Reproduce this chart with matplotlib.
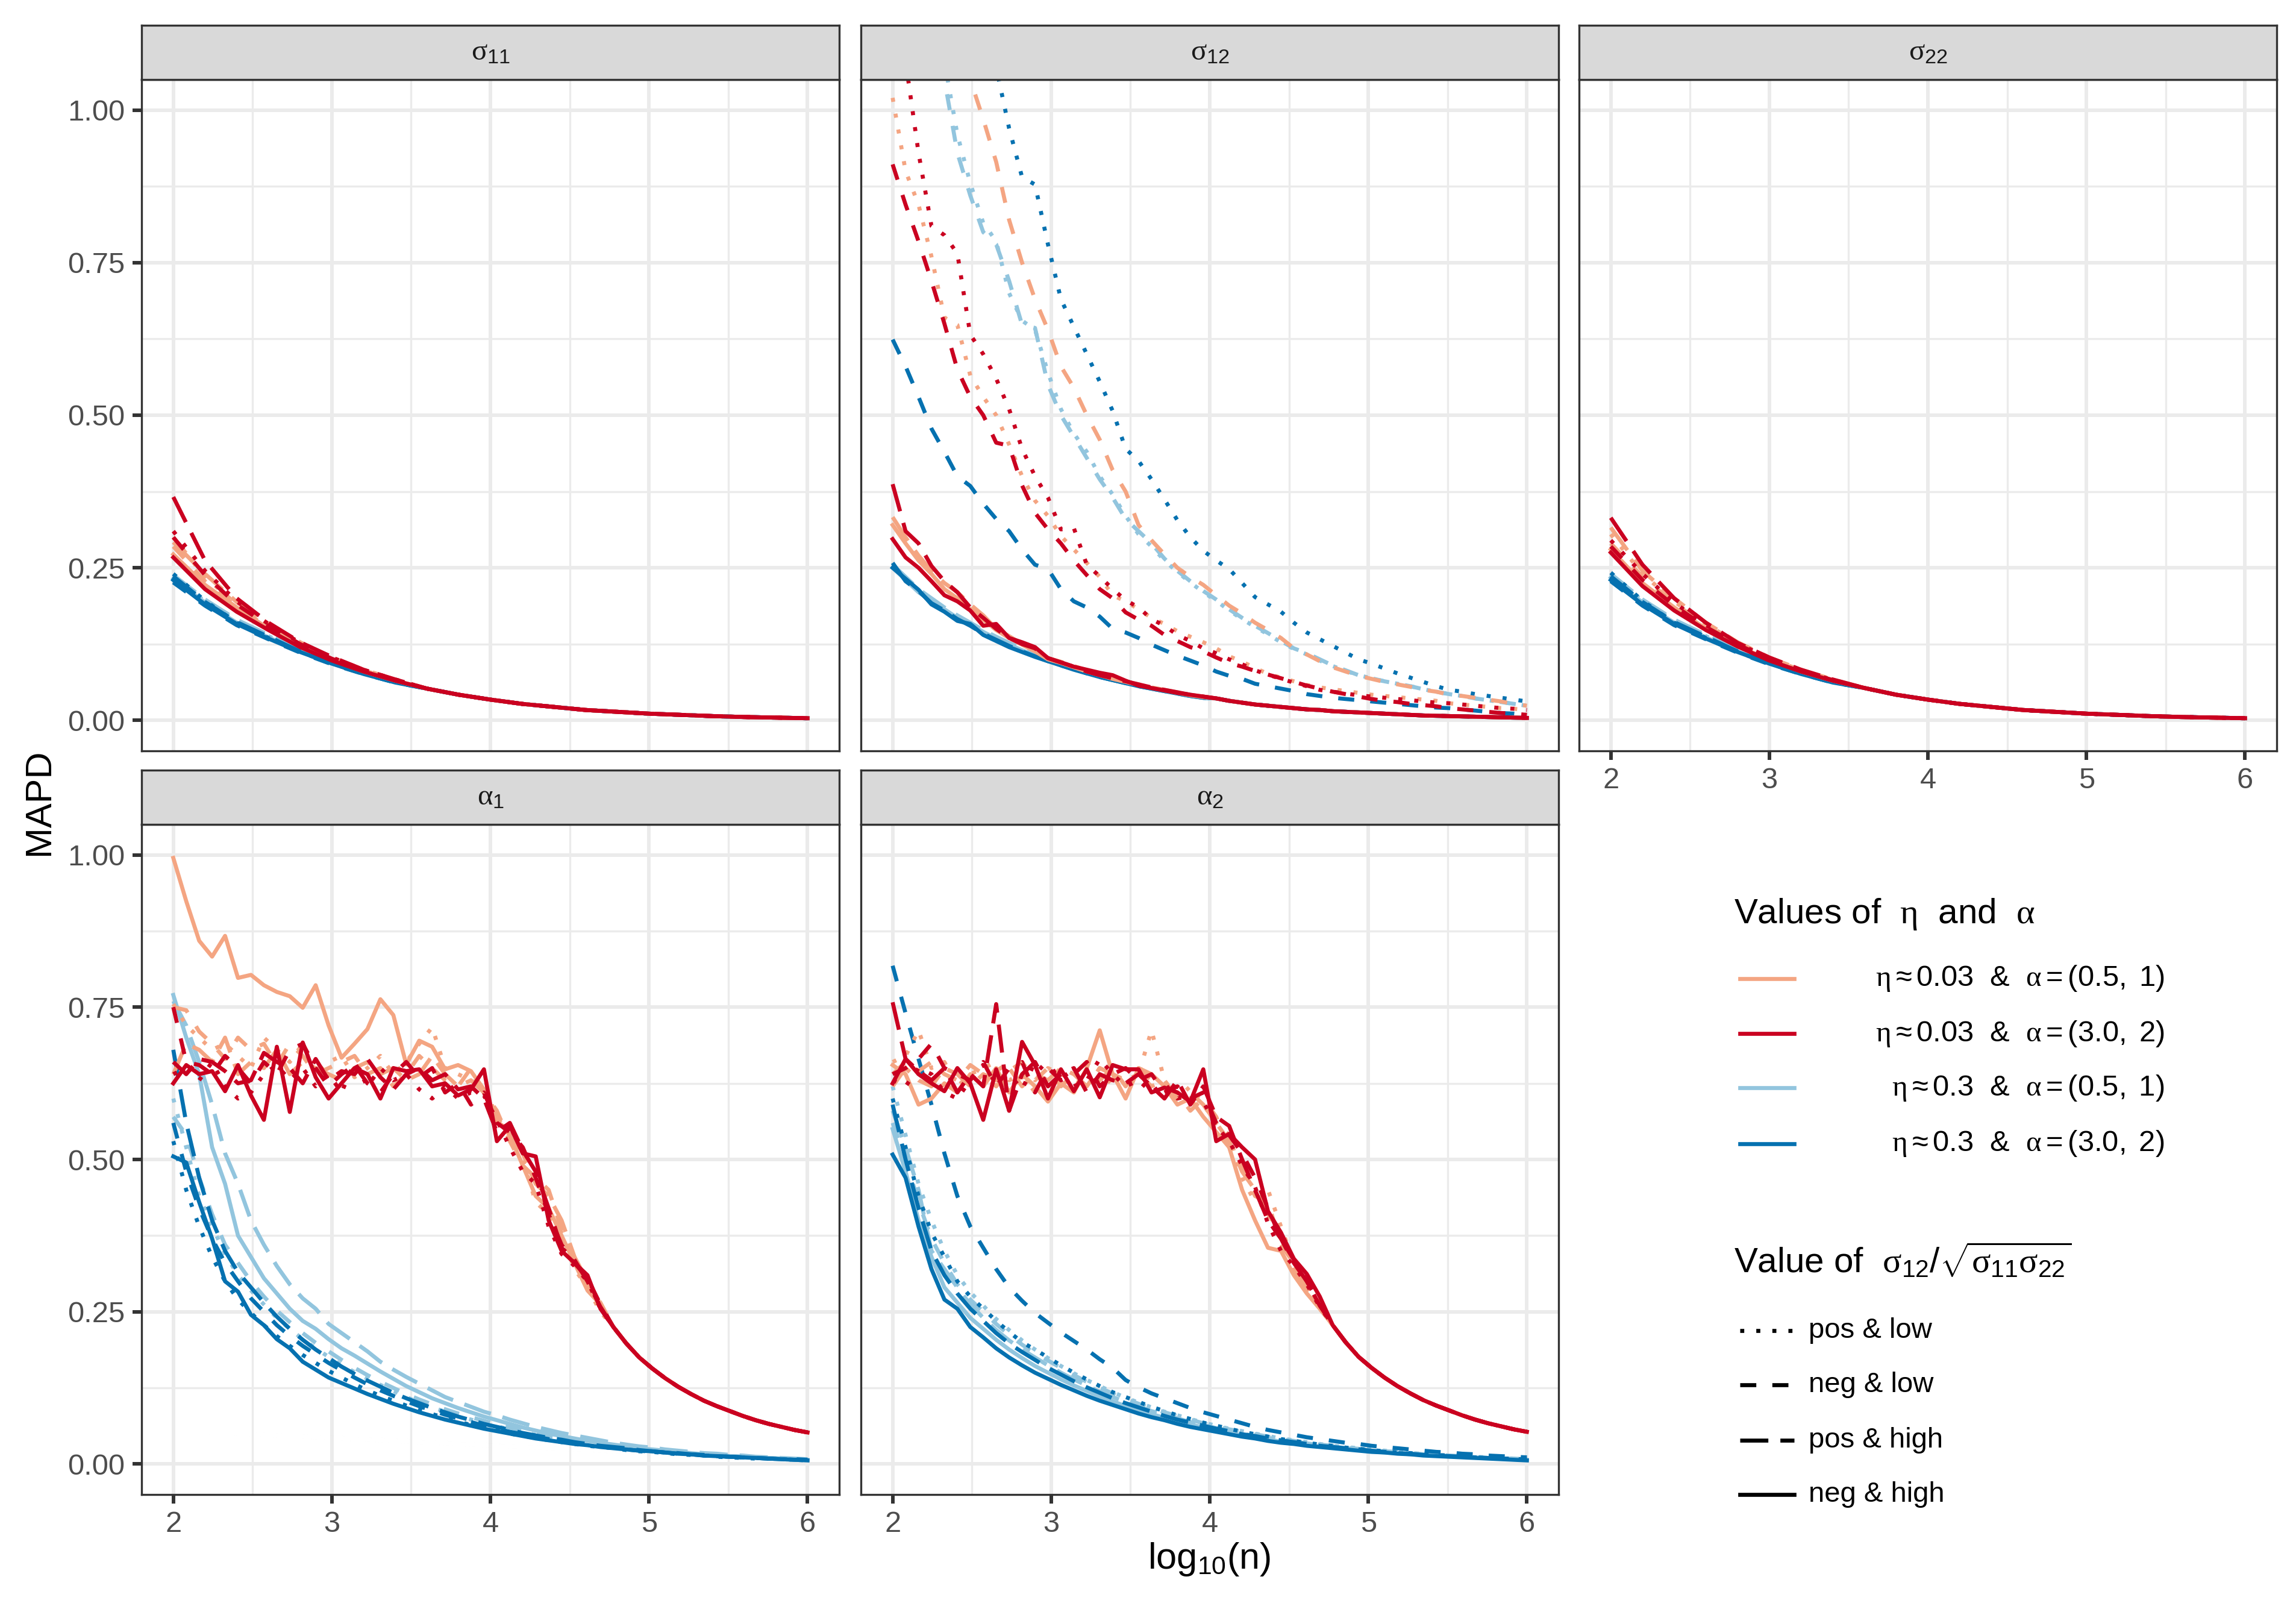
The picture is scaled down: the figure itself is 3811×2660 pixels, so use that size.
import numpy as np
import matplotlib
matplotlib.use("Agg")
import matplotlib.pyplot as plt
from matplotlib.ticker import MultipleLocator

plt.rcParams["font.family"] = ["Liberation Sans", "DejaVu Sans"]
plt.rcParams["mathtext.fontset"] = "custom"
plt.rcParams["mathtext.rm"] = "Liberation Sans"
plt.rcParams["mathtext.it"] = "Liberation Serif"
plt.rcParams["mathtext.bf"] = "Liberation Sans:bold"

# log10(n) grids
log_n = np.linspace(2, 6, 50)
log_n_coarse = [2.0, 2.2, 2.4, 2.6, 2.8, 3.0, 3.2, 3.4, 3.6, 3.8, 4.0,
                4.2, 4.4, 4.6, 4.8, 5.0, 5.2, 5.4, 5.6, 5.8, 6.0]

colour_labels = [r"$\eta\approx0.03$  &  $\alpha=(0.5,\ 1)$",
                 r"$\eta\approx0.03$  &  $\alpha=(3.0,\ 2)$",
                 r"$\eta\approx0.3$  &  $\alpha=(0.5,\ 1)$",
                 r"$\eta\approx0.3$  &  $\alpha=(3.0,\ 2)$"]
linetype_labels = ["pos & low", "neg & low", "pos & high", "neg & high"]
panel_titles = [r"$\sigma_{11}$", r"$\sigma_{12}$", r"$\sigma_{22}$",
                r"$\alpha_{1}$", r"$\alpha_{2}$"]

# every group below: [pos & low, neg & low, pos & high, neg & high]

# ---- sigma11 (coarse grid: heads 2.0-3.4, shared tail 3.6-6.0)
s11_tail = [0.052, 0.042, 0.034, 0.027, 0.022, 0.017, 0.014, 0.011, 0.009,
            0.007, 0.0055, 0.0045, 0.0035]
s11_peach = [[0.300, 0.235, 0.190, 0.155, 0.125, 0.102, 0.082, 0.066],
             [0.285, 0.228, 0.186, 0.152, 0.124, 0.100, 0.081, 0.066],
             [0.292, 0.240, 0.194, 0.158, 0.128, 0.103, 0.083, 0.067],
             [0.272, 0.222, 0.185, 0.150, 0.122, 0.099, 0.080, 0.065]]
s11_red = [[0.310, 0.245, 0.195, 0.158, 0.127, 0.103, 0.083, 0.067],
           [0.300, 0.238, 0.190, 0.155, 0.125, 0.101, 0.082, 0.066],
           [0.366, 0.262, 0.200, 0.160, 0.128, 0.104, 0.083, 0.067],
           [0.267, 0.215, 0.178, 0.148, 0.120, 0.098, 0.080, 0.065]]
s11_lblue = [[0.235, 0.195, 0.162, 0.138, 0.114, 0.094, 0.077, 0.063],
             [0.228, 0.190, 0.158, 0.135, 0.112, 0.092, 0.076, 0.062],
             [0.238, 0.198, 0.165, 0.140, 0.115, 0.095, 0.078, 0.064],
             [0.232, 0.193, 0.160, 0.136, 0.113, 0.093, 0.077, 0.063]]
s11_blue = [[0.240, 0.196, 0.160, 0.135, 0.112, 0.093, 0.077, 0.063],
            [0.226, 0.188, 0.156, 0.133, 0.111, 0.092, 0.076, 0.062],
            [0.236, 0.194, 0.161, 0.137, 0.113, 0.094, 0.077, 0.063],
            [0.230, 0.190, 0.158, 0.134, 0.112, 0.093, 0.076, 0.062]]

# ---- sigma22
s22_tail = [0.053, 0.042, 0.034, 0.027, 0.022, 0.017, 0.014, 0.011, 0.009,
            0.007, 0.0055, 0.0045, 0.0035]
s22_peach = [[0.305, 0.240, 0.195, 0.158, 0.126, 0.102, 0.082, 0.066],
             [0.290, 0.235, 0.192, 0.155, 0.125, 0.101, 0.081, 0.066],
             [0.316, 0.245, 0.200, 0.160, 0.128, 0.103, 0.083, 0.067],
             [0.280, 0.225, 0.185, 0.150, 0.122, 0.099, 0.080, 0.065]]
s22_red = [[0.295, 0.240, 0.193, 0.156, 0.126, 0.102, 0.082, 0.066],
           [0.285, 0.230, 0.188, 0.153, 0.124, 0.101, 0.081, 0.066],
           [0.332, 0.255, 0.200, 0.160, 0.127, 0.103, 0.083, 0.067],
           [0.275, 0.220, 0.180, 0.148, 0.121, 0.098, 0.080, 0.065]]
s22_lblue = [[0.238, 0.196, 0.163, 0.138, 0.114, 0.094, 0.077, 0.063],
             [0.230, 0.190, 0.158, 0.135, 0.112, 0.092, 0.076, 0.062],
             [0.240, 0.198, 0.165, 0.140, 0.115, 0.095, 0.078, 0.064],
             [0.234, 0.193, 0.160, 0.136, 0.113, 0.093, 0.077, 0.063]]
s22_blue = [[0.242, 0.196, 0.160, 0.135, 0.112, 0.093, 0.077, 0.063],
            [0.228, 0.188, 0.156, 0.133, 0.111, 0.092, 0.076, 0.062],
            [0.236, 0.194, 0.161, 0.137, 0.113, 0.094, 0.077, 0.063],
            [0.230, 0.190, 0.158, 0.134, 0.112, 0.093, 0.076, 0.062]]

# ---- sigma12 (low correlation: full series; high correlation: head + tail)
s12_high_tail = [0.036, 0.032, 0.029, 0.026, 0.024, 0.022, 0.020, 0.018, 0.017,
                 0.015, 0.014, 0.013, 0.012, 0.011, 0.010, 0.009, 0.008, 0.0075,
                 0.007, 0.0065, 0.006, 0.0055, 0.005, 0.0045, 0.004]
s12_peach_low = [
    [1.02, 0.90, 0.845, 0.76, 0.66, 0.648, 0.565, 0.53, 0.50, 0.452, 0.40, 0.36,
     0.335, 0.302, 0.28, 0.258, 0.235, 0.205, 0.195, 0.182, 0.168, 0.158, 0.146,
     0.137, 0.128, 0.118, 0.105, 0.096, 0.086, 0.076, 0.070, 0.064, 0.058, 0.054,
     0.051, 0.048, 0.045, 0.042, 0.040, 0.038, 0.036, 0.034, 0.032, 0.028, 0.026,
     0.024, 0.022, 0.020, 0.019, 0.017],
    [1.95, 1.78, 1.62, 1.48, 1.35, 1.23, 1.05, 0.985, 0.915, 0.82, 0.75, 0.69,
     0.64, 0.58, 0.545, 0.50, 0.46, 0.41, 0.375, 0.32, 0.295, 0.272, 0.250, 0.235,
     0.222, 0.205, 0.188, 0.175, 0.160, 0.148, 0.135, 0.118, 0.108, 0.097, 0.087,
     0.080, 0.073, 0.068, 0.063, 0.059, 0.055, 0.050, 0.047, 0.042, 0.040, 0.037,
     0.034, 0.031, 0.027, 0.024]]
s12_red_low = [
    [1.35, 1.08, 0.93, 0.81, 0.795, 0.765, 0.632, 0.60, 0.56, 0.51, 0.445, 0.40,
     0.365, 0.313, 0.315, 0.255, 0.236, 0.215, 0.197, 0.185, 0.166, 0.155, 0.140,
     0.130, 0.118, 0.110, 0.100, 0.092, 0.082, 0.075, 0.068, 0.062, 0.056, 0.050,
     0.047, 0.044, 0.041, 0.039, 0.037, 0.035, 0.033, 0.031, 0.029, 0.028, 0.026,
     0.024, 0.022, 0.020, 0.019, 0.017],
    [0.911, 0.845, 0.785, 0.720, 0.650, 0.575, 0.530, 0.500, 0.455, 0.450, 0.385,
     0.340, 0.313, 0.290, 0.262, 0.238, 0.215, 0.200, 0.177, 0.165, 0.155, 0.140,
     0.130, 0.120, 0.113, 0.103, 0.094, 0.088, 0.081, 0.075, 0.069, 0.063, 0.057,
     0.052, 0.047, 0.043, 0.039, 0.035, 0.032, 0.030, 0.027, 0.025, 0.023, 0.020,
     0.018, 0.016, 0.014, 0.012, 0.011, 0.009]]
s12_lblue_low = [
    [1.70, 1.52, 1.36, 1.20, 1.08, 0.96, 0.88, 0.815, 0.785, 0.700, 0.655, 0.640,
     0.570, 0.510, 0.470, 0.440, 0.400, 0.370, 0.335, 0.305, 0.285, 0.262, 0.243,
     0.226, 0.210, 0.196, 0.180, 0.166, 0.153, 0.141, 0.128, 0.117, 0.108, 0.098,
     0.089, 0.081, 0.074, 0.069, 0.064, 0.060, 0.056, 0.051, 0.047, 0.043, 0.040,
     0.036, 0.033, 0.030, 0.027, 0.024],
    [1.62, 1.45, 1.30, 1.16, 1.05, 0.93, 0.86, 0.80, 0.78, 0.72, 0.648, 0.643,
     0.55, 0.50, 0.465, 0.43, 0.395, 0.365, 0.330, 0.31, 0.29, 0.265, 0.245, 0.228,
     0.212, 0.198, 0.182, 0.168, 0.155, 0.143, 0.130, 0.118, 0.110, 0.100, 0.090,
     0.082, 0.074, 0.069, 0.064, 0.060, 0.056, 0.051, 0.047, 0.043, 0.040, 0.036,
     0.033, 0.030, 0.027, 0.024]]
s12_blue_low = [
    [2.20, 2.00, 1.82, 1.65, 1.50, 1.37, 1.25, 1.15, 1.07, 0.97, 0.89, 0.878,
     0.78, 0.69, 0.645, 0.60, 0.555, 0.507, 0.445, 0.425, 0.395, 0.362, 0.328,
     0.300, 0.278, 0.262, 0.248, 0.225, 0.202, 0.190, 0.178, 0.160, 0.144, 0.133,
     0.122, 0.111, 0.100, 0.093, 0.085, 0.077, 0.070, 0.063, 0.056, 0.050, 0.047,
     0.043, 0.040, 0.037, 0.034, 0.031],
    [0.624, 0.580, 0.530, 0.478, 0.440, 0.400, 0.384, 0.355, 0.330, 0.310, 0.280,
     0.255, 0.248, 0.215, 0.195, 0.185, 0.170, 0.150, 0.144, 0.135, 0.124, 0.115,
     0.106, 0.098, 0.090, 0.080, 0.073, 0.068, 0.060, 0.056, 0.052, 0.048, 0.043,
     0.040, 0.037, 0.035, 0.033, 0.031, 0.029, 0.027, 0.025, 0.023, 0.021, 0.020,
     0.018, 0.016, 0.014, 0.012, 0.011, 0.009]]
s12_peach_high = [
    [0.333, 0.300, 0.270, 0.245, 0.225, 0.210, 0.190, 0.172, 0.150, 0.138, 0.125,
     0.115, 0.102, 0.096, 0.089, 0.082, 0.076, 0.070, 0.064, 0.059, 0.054, 0.050,
     0.046, 0.042, 0.039],
    [0.320, 0.290, 0.262, 0.240, 0.215, 0.200, 0.182, 0.165, 0.148, 0.135, 0.124,
     0.113, 0.100, 0.094, 0.087, 0.080, 0.074, 0.068, 0.063, 0.058, 0.053, 0.049,
     0.045, 0.041, 0.038]]
s12_red_high = [
    [0.387, 0.310, 0.290, 0.253, 0.228, 0.210, 0.185, 0.168, 0.150, 0.135, 0.125,
     0.118, 0.102, 0.095, 0.088, 0.080, 0.074, 0.069, 0.064, 0.059, 0.054, 0.050,
     0.046, 0.042, 0.039],
    [0.297, 0.267, 0.250, 0.228, 0.205, 0.195, 0.180, 0.155, 0.158, 0.135, 0.128,
     0.120, 0.102, 0.095, 0.088, 0.083, 0.078, 0.074, 0.065, 0.057, 0.053, 0.049,
     0.045, 0.042, 0.039]]
s12_lblue_high = [
    [0.255, 0.235, 0.215, 0.200, 0.185, 0.172, 0.160, 0.148, 0.137, 0.127, 0.118,
     0.109, 0.100, 0.093, 0.086, 0.080, 0.074, 0.068, 0.063, 0.058, 0.053, 0.049,
     0.045, 0.042, 0.038],
    [0.250, 0.230, 0.210, 0.195, 0.182, 0.168, 0.157, 0.145, 0.134, 0.124, 0.115,
     0.106, 0.098, 0.091, 0.084, 0.078, 0.072, 0.067, 0.062, 0.057, 0.052, 0.048,
     0.044, 0.041, 0.037]]
s12_blue_high = [
    [0.258, 0.228, 0.212, 0.192, 0.180, 0.166, 0.155, 0.142, 0.132, 0.122, 0.113,
     0.105, 0.097, 0.090, 0.083, 0.077, 0.071, 0.066, 0.061, 0.056, 0.052, 0.048,
     0.044, 0.040, 0.037],
    [0.250, 0.232, 0.214, 0.190, 0.178, 0.163, 0.158, 0.140, 0.130, 0.120, 0.112,
     0.104, 0.097, 0.090, 0.084, 0.077, 0.071, 0.066, 0.061, 0.056, 0.052, 0.048,
     0.044, 0.040, 0.037]]

# ---- alpha1 (eta ~ 0.03: head up to 4.69 + shared tail)
a1_warm_tail = [0.225, 0.198, 0.175, 0.157, 0.141, 0.127, 0.115, 0.104, 0.095,
                0.087, 0.079, 0.072, 0.066, 0.061, 0.056, 0.052]
a1_peach = [
    [0.755, 0.720, 0.700, 0.680, 0.690, 0.670, 0.650, 0.700, 0.680, 0.660, 0.690,
     0.640, 0.660, 0.670, 0.635, 0.650, 0.670, 0.640, 0.660, 0.690, 0.717, 0.650,
     0.640, 0.630, 0.620, 0.570, 0.540, 0.500, 0.430, 0.410, 0.380, 0.320, 0.290,
     0.250],
    [0.750, 0.745, 0.710, 0.690, 0.665, 0.700, 0.680, 0.690, 0.655, 0.690, 0.670,
     0.640, 0.650, 0.660, 0.670, 0.640, 0.650, 0.620, 0.640, 0.670, 0.650, 0.630,
     0.620, 0.650, 0.610, 0.580, 0.530, 0.490, 0.470, 0.450, 0.385, 0.330, 0.290,
     0.265],
    [0.640, 0.690, 0.680, 0.660, 0.700, 0.640, 0.660, 0.650, 0.680, 0.640, 0.660,
     0.650, 0.640, 0.630, 0.650, 0.660, 0.640, 0.650, 0.630, 0.640, 0.670, 0.640,
     0.620, 0.630, 0.610, 0.560, 0.550, 0.510, 0.460, 0.440, 0.400, 0.340, 0.300,
     0.260],
    [0.995, 0.924, 0.859, 0.833, 0.867, 0.798, 0.803, 0.786, 0.775, 0.768, 0.749,
     0.786, 0.720, 0.667, 0.690, 0.714, 0.763, 0.737, 0.656, 0.695, 0.685, 0.648,
     0.655, 0.645, 0.615, 0.565, 0.540, 0.490, 0.440, 0.420, 0.375, 0.330, 0.285,
     0.262]]
a1_red = [
    [0.640, 0.650, 0.630, 0.660, 0.620, 0.600, 0.610, 0.640, 0.655, 0.630, 0.650,
     0.620, 0.640, 0.610, 0.660, 0.620, 0.650, 0.630, 0.640, 0.615, 0.600, 0.620,
     0.600, 0.610, 0.605, 0.565, 0.520, 0.480, 0.460, 0.390, 0.345, 0.325, 0.300,
     0.255],
    [0.750, 0.660, 0.655, 0.640, 0.670, 0.650, 0.625, 0.660, 0.640, 0.680, 0.690,
     0.650, 0.620, 0.640, 0.655, 0.625, 0.610, 0.640, 0.660, 0.635, 0.650, 0.610,
     0.625, 0.590, 0.610, 0.560, 0.545, 0.520, 0.470, 0.410, 0.360, 0.330, 0.305,
     0.262],
    [0.660, 0.640, 0.665, 0.660, 0.645, 0.625, 0.630, 0.675, 0.660, 0.650, 0.625,
     0.665, 0.630, 0.645, 0.640, 0.665, 0.635, 0.615, 0.640, 0.650, 0.630, 0.640,
     0.615, 0.620, 0.600, 0.545, 0.560, 0.515, 0.480, 0.420, 0.355, 0.335, 0.300,
     0.258],
    [0.625, 0.655, 0.640, 0.645, 0.612, 0.655, 0.605, 0.565, 0.685, 0.578, 0.692,
     0.635, 0.600, 0.625, 0.650, 0.640, 0.600, 0.650, 0.645, 0.648, 0.620, 0.625,
     0.605, 0.615, 0.648, 0.530, 0.555, 0.510, 0.505, 0.400, 0.350, 0.330, 0.310,
     0.255]]
a1_lblue = [
    [0.600, 0.520, 0.440, 0.390, 0.345, 0.310, 0.285, 0.262, 0.240, 0.222, 0.205,
     0.190, 0.176, 0.163, 0.151, 0.140, 0.130, 0.120, 0.110, 0.101, 0.093, 0.086,
     0.079, 0.073, 0.067, 0.062, 0.057, 0.052, 0.048, 0.044, 0.040, 0.037, 0.034,
     0.031, 0.028, 0.026, 0.024, 0.022, 0.020, 0.018, 0.016, 0.015, 0.013, 0.012,
     0.011, 0.010, 0.009, 0.008, 0.007, 0.007],
    [0.570, 0.540, 0.470, 0.410, 0.360, 0.330, 0.300, 0.275, 0.252, 0.233, 0.215,
     0.199, 0.185, 0.171, 0.158, 0.146, 0.135, 0.125, 0.115, 0.106, 0.098, 0.090,
     0.083, 0.077, 0.071, 0.065, 0.060, 0.055, 0.050, 0.046, 0.042, 0.039, 0.036,
     0.033, 0.030, 0.027, 0.025, 0.023, 0.021, 0.019, 0.017, 0.016, 0.014, 0.013,
     0.012, 0.011, 0.010, 0.009, 0.008, 0.007],
    [0.760, 0.720, 0.660, 0.590, 0.510, 0.460, 0.400, 0.360, 0.325, 0.295, 0.272,
     0.255, 0.230, 0.215, 0.200, 0.185, 0.168, 0.155, 0.143, 0.132, 0.121, 0.110,
     0.102, 0.094, 0.086, 0.080, 0.073, 0.067, 0.061, 0.056, 0.051, 0.047, 0.043,
     0.039, 0.035, 0.032, 0.029, 0.027, 0.024, 0.022, 0.020, 0.018, 0.017, 0.015,
     0.014, 0.012, 0.011, 0.010, 0.009, 0.008],
    [0.770, 0.700, 0.640, 0.520, 0.460, 0.375, 0.340, 0.305, 0.280, 0.255, 0.235,
     0.222, 0.205, 0.190, 0.178, 0.165, 0.152, 0.140, 0.128, 0.118, 0.108, 0.100,
     0.092, 0.085, 0.078, 0.072, 0.066, 0.060, 0.055, 0.050, 0.046, 0.042, 0.038,
     0.035, 0.032, 0.029, 0.026, 0.024, 0.022, 0.020, 0.018, 0.016, 0.015, 0.013,
     0.012, 0.011, 0.010, 0.009, 0.008, 0.007]]
a1_blue = [
    [0.530, 0.450, 0.390, 0.340, 0.300, 0.270, 0.248, 0.228, 0.210, 0.194, 0.179,
     0.166, 0.153, 0.142, 0.131, 0.121, 0.112, 0.104, 0.096, 0.089, 0.082, 0.076,
     0.070, 0.064, 0.059, 0.055, 0.050, 0.046, 0.043, 0.039, 0.036, 0.033, 0.030,
     0.028, 0.026, 0.023, 0.021, 0.020, 0.018, 0.016, 0.015, 0.014, 0.012, 0.011,
     0.010, 0.009, 0.009, 0.008, 0.007, 0.006],
    [0.560, 0.480, 0.420, 0.370, 0.330, 0.300, 0.272, 0.250, 0.228, 0.210, 0.194,
     0.180, 0.166, 0.154, 0.142, 0.131, 0.121, 0.112, 0.103, 0.095, 0.088, 0.081,
     0.075, 0.069, 0.063, 0.058, 0.053, 0.049, 0.045, 0.041, 0.038, 0.035, 0.032,
     0.029, 0.027, 0.024, 0.022, 0.020, 0.019, 0.017, 0.016, 0.014, 0.013, 0.012,
     0.011, 0.010, 0.009, 0.008, 0.007, 0.007],
    [0.680, 0.560, 0.470, 0.400, 0.350, 0.315, 0.290, 0.265, 0.242, 0.222, 0.204,
     0.188, 0.174, 0.160, 0.148, 0.137, 0.127, 0.117, 0.108, 0.100, 0.092, 0.085,
     0.078, 0.072, 0.066, 0.061, 0.056, 0.051, 0.047, 0.043, 0.040, 0.036, 0.033,
     0.030, 0.028, 0.026, 0.023, 0.021, 0.019, 0.018, 0.016, 0.015, 0.013, 0.012,
     0.011, 0.010, 0.009, 0.008, 0.008, 0.007],
    [0.505, 0.495, 0.430, 0.370, 0.300, 0.283, 0.245, 0.228, 0.205, 0.190, 0.168,
     0.155, 0.142, 0.133, 0.124, 0.115, 0.107, 0.099, 0.092, 0.085, 0.079, 0.073,
     0.068, 0.063, 0.058, 0.054, 0.050, 0.046, 0.042, 0.039, 0.036, 0.033, 0.031,
     0.028, 0.026, 0.024, 0.022, 0.021, 0.019, 0.017, 0.016, 0.014, 0.013, 0.012,
     0.011, 0.010, 0.009, 0.008, 0.007, 0.006]]

# ---- alpha2
a2_warm_tail = [0.228, 0.200, 0.176, 0.158, 0.142, 0.128, 0.116, 0.105, 0.096,
                0.088, 0.080, 0.073, 0.067, 0.062, 0.057, 0.053]
a2_peach = [
    [0.660, 0.670, 0.712, 0.650, 0.660, 0.620, 0.640, 0.650, 0.660, 0.630, 0.640,
     0.610, 0.650, 0.640, 0.630, 0.620, 0.650, 0.620, 0.650, 0.640, 0.712, 0.630,
     0.600, 0.620, 0.590, 0.560, 0.540, 0.470, 0.430, 0.450, 0.390, 0.330, 0.290,
     0.255],
    [0.640, 0.660, 0.645, 0.660, 0.640, 0.630, 0.655, 0.640, 0.620, 0.645, 0.660,
     0.630, 0.650, 0.620, 0.640, 0.660, 0.630, 0.650, 0.620, 0.650, 0.630, 0.620,
     0.610, 0.580, 0.600, 0.570, 0.520, 0.490, 0.440, 0.430, 0.360, 0.330, 0.295,
     0.262],
    [0.620, 0.650, 0.630, 0.620, 0.650, 0.640, 0.620, 0.640, 0.630, 0.650, 0.620,
     0.640, 0.630, 0.650, 0.640, 0.620, 0.650, 0.640, 0.630, 0.640, 0.620, 0.630,
     0.600, 0.610, 0.590, 0.560, 0.530, 0.480, 0.450, 0.410, 0.380, 0.320, 0.290,
     0.260],
    [0.655, 0.640, 0.590, 0.600, 0.625, 0.610, 0.640, 0.620, 0.650, 0.610, 0.640,
     0.620, 0.595, 0.625, 0.610, 0.650, 0.712, 0.640, 0.600, 0.650, 0.640, 0.620,
     0.590, 0.600, 0.570, 0.545, 0.520, 0.450, 0.400, 0.355, 0.350, 0.310, 0.280,
     0.255]]
a2_red = [
    [0.630, 0.620, 0.650, 0.640, 0.610, 0.600, 0.630, 0.655, 0.625, 0.640, 0.615,
     0.660, 0.640, 0.650, 0.620, 0.630, 0.665, 0.640, 0.620, 0.630, 0.610, 0.625,
     0.600, 0.605, 0.595, 0.555, 0.530, 0.490, 0.455, 0.395, 0.350, 0.325, 0.295,
     0.258],
    [0.640, 0.650, 0.665, 0.690, 0.650, 0.640, 0.630, 0.660, 0.620, 0.650, 0.660,
     0.610, 0.650, 0.630, 0.640, 0.660, 0.620, 0.640, 0.650, 0.630, 0.640, 0.610,
     0.620, 0.600, 0.610, 0.560, 0.540, 0.510, 0.470, 0.420, 0.370, 0.335, 0.300,
     0.262],
    [0.758, 0.665, 0.645, 0.630, 0.650, 0.610, 0.640, 0.620, 0.755, 0.580, 0.640,
     0.660, 0.620, 0.640, 0.650, 0.610, 0.640, 0.630, 0.625, 0.640, 0.620, 0.600,
     0.630, 0.590, 0.620, 0.570, 0.555, 0.500, 0.450, 0.400, 0.370, 0.330, 0.300,
     0.260],
    [0.625, 0.665, 0.640, 0.625, 0.612, 0.650, 0.625, 0.565, 0.648, 0.580, 0.693,
     0.655, 0.600, 0.648, 0.612, 0.648, 0.602, 0.655, 0.648, 0.648, 0.610, 0.618,
     0.610, 0.595, 0.648, 0.530, 0.542, 0.520, 0.500, 0.415, 0.380, 0.337, 0.312,
     0.275]]
a2_lblue = [
    [0.620, 0.540, 0.460, 0.400, 0.350, 0.310, 0.282, 0.260, 0.238, 0.220, 0.203,
     0.188, 0.174, 0.161, 0.149, 0.138, 0.128, 0.118, 0.109, 0.101, 0.093, 0.086,
     0.080, 0.074, 0.068, 0.063, 0.058, 0.054, 0.050, 0.046, 0.042, 0.039, 0.036,
     0.033, 0.030, 0.028, 0.026, 0.024, 0.022, 0.020, 0.018, 0.017, 0.015, 0.014,
     0.013, 0.012, 0.011, 0.010, 0.009, 0.008],
    [0.560, 0.500, 0.430, 0.370, 0.330, 0.295, 0.270, 0.250, 0.230, 0.212, 0.196,
     0.182, 0.170, 0.158, 0.146, 0.135, 0.125, 0.116, 0.107, 0.099, 0.092, 0.085,
     0.079, 0.073, 0.067, 0.062, 0.057, 0.053, 0.049, 0.045, 0.041, 0.038, 0.035,
     0.032, 0.030, 0.027, 0.025, 0.023, 0.021, 0.020, 0.018, 0.016, 0.015, 0.014,
     0.013, 0.011, 0.010, 0.010, 0.009, 0.008],
    [0.580, 0.520, 0.450, 0.350, 0.320, 0.290, 0.262, 0.240, 0.220, 0.203, 0.188,
     0.175, 0.162, 0.150, 0.139, 0.129, 0.119, 0.110, 0.102, 0.094, 0.087, 0.081,
     0.075, 0.069, 0.064, 0.059, 0.055, 0.050, 0.046, 0.043, 0.040, 0.036, 0.034,
     0.031, 0.029, 0.026, 0.024, 0.022, 0.020, 0.019, 0.017, 0.016, 0.015, 0.013,
     0.012, 0.011, 0.010, 0.009, 0.009, 0.008],
    [0.550, 0.480, 0.400, 0.340, 0.290, 0.265, 0.240, 0.222, 0.204, 0.188, 0.174,
     0.161, 0.150, 0.139, 0.129, 0.120, 0.111, 0.103, 0.095, 0.088, 0.082, 0.076,
     0.070, 0.065, 0.060, 0.055, 0.051, 0.047, 0.043, 0.040, 0.037, 0.034, 0.031,
     0.029, 0.027, 0.025, 0.023, 0.021, 0.019, 0.018, 0.016, 0.015, 0.014, 0.013,
     0.012, 0.011, 0.010, 0.009, 0.008, 0.007]]
a2_blue = [
    [0.600, 0.520, 0.440, 0.380, 0.340, 0.300, 0.275, 0.255, 0.235, 0.217, 0.200,
     0.188, 0.175, 0.162, 0.150, 0.139, 0.128, 0.118, 0.110, 0.102, 0.094, 0.087,
     0.080, 0.074, 0.068, 0.063, 0.058, 0.053, 0.049, 0.045, 0.041, 0.038, 0.035,
     0.032, 0.030, 0.027, 0.025, 0.023, 0.021, 0.019, 0.018, 0.016, 0.015, 0.014,
     0.012, 0.011, 0.010, 0.009, 0.009, 0.008],
    [0.818, 0.740, 0.665, 0.590, 0.510, 0.440, 0.390, 0.355, 0.320, 0.290, 0.268,
     0.248, 0.232, 0.216, 0.202, 0.188, 0.172, 0.158, 0.138, 0.126, 0.116, 0.108,
     0.100, 0.092, 0.085, 0.079, 0.073, 0.067, 0.061, 0.056, 0.052, 0.048, 0.044,
     0.041, 0.038, 0.035, 0.033, 0.030, 0.028, 0.026, 0.024, 0.022, 0.020, 0.019,
     0.017, 0.016, 0.014, 0.013, 0.012, 0.011],
    [0.590, 0.500, 0.420, 0.350, 0.310, 0.280, 0.255, 0.235, 0.215, 0.198, 0.184,
     0.171, 0.158, 0.147, 0.136, 0.126, 0.117, 0.108, 0.100, 0.093, 0.086, 0.079,
     0.073, 0.068, 0.063, 0.058, 0.054, 0.049, 0.046, 0.042, 0.039, 0.036, 0.033,
     0.030, 0.028, 0.026, 0.024, 0.022, 0.020, 0.018, 0.017, 0.015, 0.014, 0.013,
     0.012, 0.011, 0.010, 0.009, 0.008, 0.008],
    [0.508, 0.470, 0.390, 0.320, 0.270, 0.255, 0.225, 0.208, 0.190, 0.175, 0.162,
     0.150, 0.140, 0.130, 0.121, 0.112, 0.104, 0.097, 0.090, 0.083, 0.077, 0.072,
     0.066, 0.061, 0.057, 0.053, 0.049, 0.045, 0.042, 0.038, 0.035, 0.033, 0.030,
     0.028, 0.026, 0.024, 0.022, 0.020, 0.019, 0.017, 0.016, 0.014, 0.013, 0.012,
     0.011, 0.010, 0.009, 0.008, 0.007, 0.006]]


def with_tail(heads, tail):
    return [h + tail for h in heads]


# colour order: peach, red, light blue, dark blue
panel_data = [
    (log_n_coarse, [with_tail(s11_peach, s11_tail), with_tail(s11_red, s11_tail),
                    with_tail(s11_lblue, s11_tail), with_tail(s11_blue, s11_tail)]),
    (log_n, [s12_peach_low + with_tail(s12_peach_high, s12_high_tail),
             s12_red_low + with_tail(s12_red_high, s12_high_tail),
             s12_lblue_low + with_tail(s12_lblue_high, s12_high_tail),
             s12_blue_low + with_tail(s12_blue_high, s12_high_tail)]),
    (log_n_coarse, [with_tail(s22_peach, s22_tail), with_tail(s22_red, s22_tail),
                    with_tail(s22_lblue, s22_tail), with_tail(s22_blue, s22_tail)]),
    (log_n, [with_tail(a1_peach, a1_warm_tail), with_tail(a1_red, a1_warm_tail),
             a1_lblue, a1_blue]),
    (log_n, [with_tail(a2_peach, a2_warm_tail), with_tail(a2_red, a2_warm_tail),
             a2_lblue, a2_blue]),
]

colours = ["#F4A582", "#CA0020", "#92C5DE", "#0571B0"]
linestyles = [(0, (1, 3)), (0, (4, 4)), (0, (7, 3)), "solid"]
draw_order = [2, 3, 0, 1]
LW = 1.2

W, H, DPI = 3812, 2660, 400
fig = plt.figure(figsize=(W / DPI, H / DPI), dpi=DPI)


def box(x0, y0, x1, y1):
    return [x0 / W, 1 - y1 / H, (x1 - x0) / W, (y1 - y0) / H]


cols = [(235, 1393), (1429, 2587), (2621, 3779)]
rows = [((42, 132), (132, 1246)), ((1278, 1368), (1368, 2480))]
slots = [(0, 0), (0, 1), (0, 2), (1, 0), (1, 1)]

for i, (r, c) in enumerate(slots):
    (sy0, sy1), (py0, py1) = rows[r]
    cx0, cx1 = cols[c]

    ax = fig.add_axes(box(cx0, py0, cx1, py1))
    ax.set_xlim(1.8, 6.2)
    ax.set_ylim(-0.05, 1.05)
    ax.xaxis.set_major_locator(MultipleLocator(1))
    ax.xaxis.set_minor_locator(MultipleLocator(0.5))
    ax.yaxis.set_major_locator(MultipleLocator(0.25))
    ax.yaxis.set_minor_locator(MultipleLocator(0.125))
    ax.set_yticks([0, 0.25, 0.5, 0.75, 1.0])
    ax.set_yticklabels(["0.00", "0.25", "0.50", "0.75", "1.00"])
    ax.grid(which="major", color="#EBEBEB", lw=1.07)
    ax.grid(which="minor", color="#EBEBEB", lw=0.6)
    ax.set_axisbelow(True)
    for sp in ax.spines.values():
        sp.set_color("#333333")
        sp.set_linewidth(0.6)
    ax.tick_params(which="major", length=2.75, width=1.07, color="#333333",
                   labelcolor="#4D4D4D", labelsize=8.8, pad=2.2)
    ax.tick_params(which="minor", length=0)
    show_x = (r == 1) or (c == 2)
    show_y = (c == 0)
    ax.tick_params(axis="x", bottom=show_x, labelbottom=show_x)
    ax.tick_params(axis="y", left=show_y, labelleft=show_y)

    x, groups = panel_data[i]
    for k in draw_order:
        for lt, ys in zip(linestyles, groups[k]):
            ax.plot(x, ys, color=colours[k], linestyle=lt, lw=LW)

    sax = fig.add_axes(box(cx0, sy0, cx1, sy1))
    sax.set_facecolor("#D9D9D9")
    sax.set_xticks([])
    sax.set_yticks([])
    for sp in sax.spines.values():
        sp.set_color("#333333")
        sp.set_linewidth(0.6)
    sax.text(0.5, 0.5, panel_titles[i], ha="center", va="center",
             fontsize=8.8, color="#1A1A1A", transform=sax.transAxes)

fig.text(66 / W, 1 - 1331 / H, "MAPD", rotation=90, fontsize=11,
         ha="center", va="center")
fig.text(2007 / W, 1 - 2588 / H, r"$\mathregular{log_{10}(n)}$", fontsize=11,
         ha="center", va="center")

# legends drawn in pixel coordinates
lax = fig.add_axes([0, 0, 1, 1])
lax.set_xlim(0, W)
lax.set_ylim(H, 0)
lax.axis("off")

lax.text(2878, 1517, r"Values of  $\eta$  and  $\alpha$", fontsize=10.5,
         ha="left", va="center")
for k, y in enumerate([1624, 1715, 1805, 1898]):
    lax.plot([2888, 2978], [y, y], color=colours[k], lw=LW)
    lax.text(3592, y, colour_labels[k], fontsize=8.8, ha="right", va="center")

lax.text(2878, 2092, r"Value of  $\sigma_{12}/\sqrt{\sigma_{11}\sigma_{22}}$",
         fontsize=10.5, ha="left", va="center")
for k, y in enumerate([2208, 2298, 2390, 2480]):
    lax.plot([2888, 2978], [y, y], color="black", lw=LW, linestyle=linestyles[k])
    lax.text(3002, y, linetype_labels[k], fontsize=8.5, ha="left", va="center")

fig.savefig("out.png", dpi=DPI)
